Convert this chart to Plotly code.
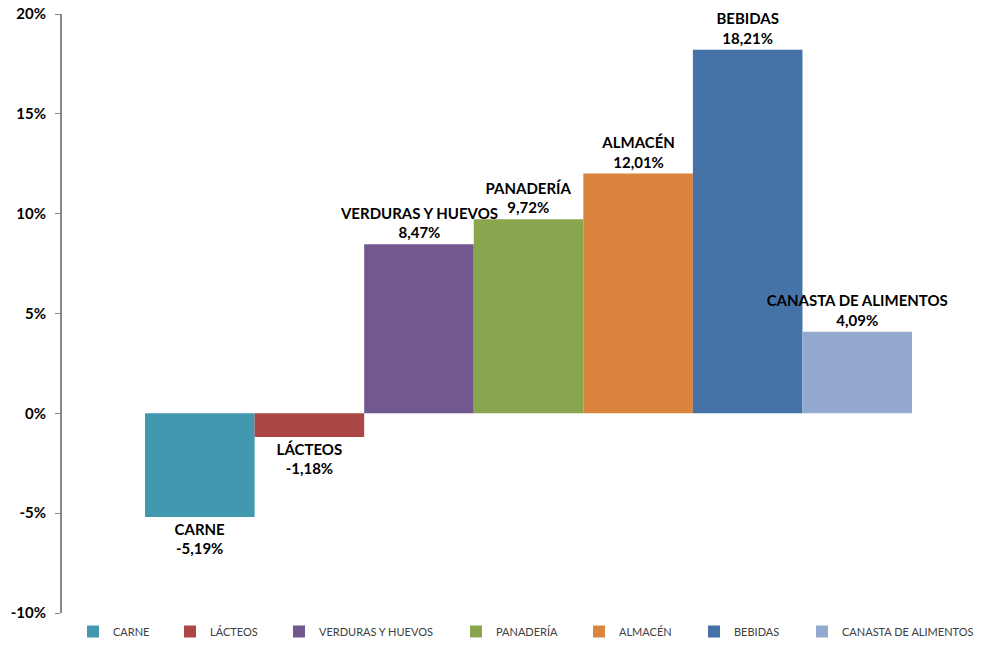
import plotly.graph_objects as go

categories = ["CARNE", "LÁCTEOS", "VERDURAS Y HUEVOS", "PANADERÍA", "ALMACÉN", "BEBIDAS", "CANASTA DE ALIMENTOS"]
values = [-5.19, -1.18, 8.47, 9.72, 12.01, 18.21, 4.09]
colors = ["#4198AF", "#AA4643", "#71588F", "#89A54E", "#DB843D", "#4572A7", "#93A9CF"]
tick_vals = [-10, -5, 0, 5, 10, 15, 20]
tick_text = ["-10%", "-5%", "0%", "5%", "10%", "15%", "20%"]
group = ["Variación"]
# left pixel position of each legend entry (layout only)
legend_x_px = [73, 170, 279, 456, 579, 694, 802]

fig = go.Figure()
legend_layouts = {}
for i, (name, v, c) in enumerate(zip(categories, values, colors)):
    label = f"{name}<br>{v:.2f}%".replace(".", ",")
    lid = "legend" if i == 0 else f"legend{i + 1}"
    fig.add_trace(go.Bar(
        x=group, y=[v], name=name, marker=dict(color=c, line=dict(width=0)),
        text=[label], textposition="outside", constraintext="none", cliponaxis=False,
        textfont=dict(family="Lato", size=15, color="#000000", weight="bold"),
        hoverinfo="skip", legend=lid,
    ))
    legend_layouts[lid] = dict(
        orientation="h", xref="container", yref="container",
        x=legend_x_px[i] / 982, xanchor="left", y=0.0, yanchor="bottom",
        font=dict(family="Lato", size=11, color="#404040"),
        itemwidth=30, bgcolor="rgba(0,0,0,0)",
    )

fig.update_layout(
    width=982, height=646,
    margin=dict(l=62, r=0, t=14, b=33, autoexpand=False),
    paper_bgcolor="white", plot_bgcolor="white",
    barmode="group", bargap=0.178, bargroupgap=0,
    font=dict(family="Lato"),
    showlegend=True,
    xaxis=dict(range=[-0.5, 0.486], showticklabels=False, showline=False, showgrid=False,
               zeroline=False, ticks="", automargin=False),
    yaxis=dict(range=[-10, 20], tickvals=tick_vals, ticktext=tick_text, automargin=False,
               showgrid=False, zeroline=False, showline=True, linecolor="#868686", linewidth=2,
               ticks="outside", ticklen=5, tickcolor="#868686", tickwidth=1,
               ticklabelstandoff=6,
               tickfont=dict(family="Lato", size=15, color="#000000", weight="bold")),
    **legend_layouts,
)

fig.write_html("out.html", config={"displayModeBar": False},
               post_script="document.body.style.margin='0px';document.body.style.padding='0px';")
